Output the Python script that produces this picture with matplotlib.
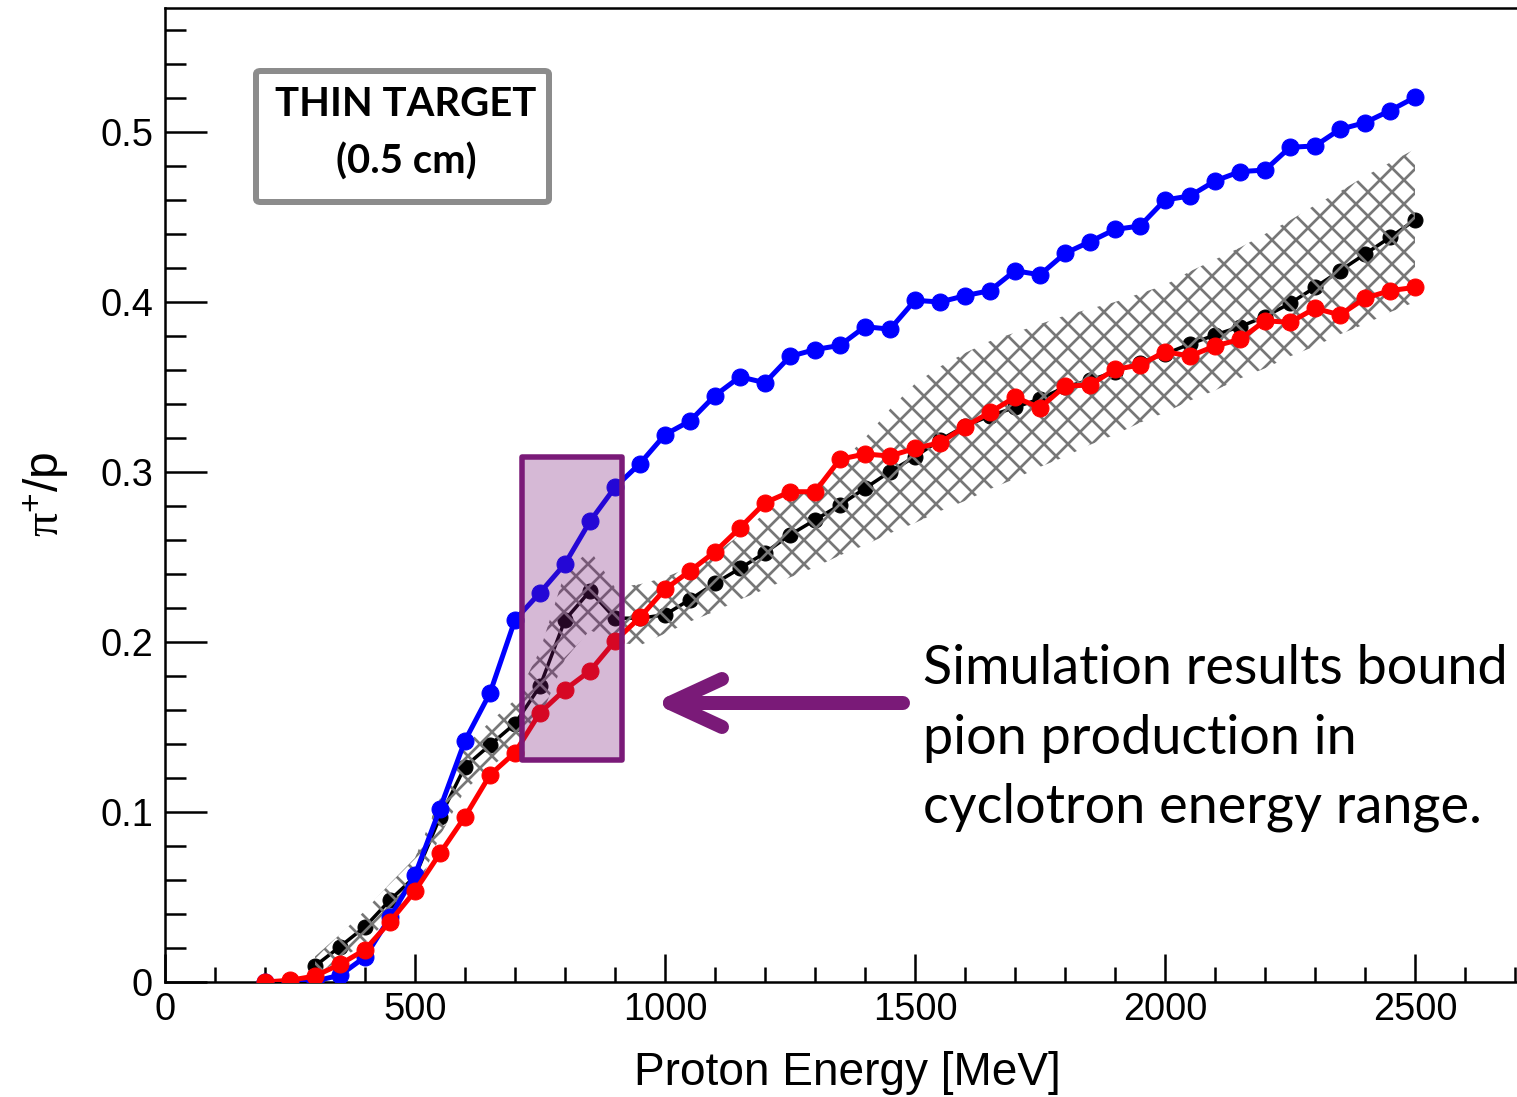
import numpy as np
import matplotlib
matplotlib.use("Agg")
import matplotlib.pyplot as plt
from matplotlib.lines import Line2D
from matplotlib.patches import Rectangle, FancyBboxPatch
from matplotlib.ticker import MultipleLocator

# ---------------- data ----------------
energy_sim = list(range(200, 2501, 50))          # MeV, blue & red curves
sim_high = [0.0, 0.0, 0.0005, 0.004, 0.0147, 0.038, 0.063, 0.102, 0.142, 0.170,
            0.213, 0.229, 0.246, 0.271, 0.291, 0.305, 0.322, 0.330, 0.345, 0.356,
            0.3525, 0.368, 0.372, 0.3745, 0.3855, 0.384, 0.401, 0.400, 0.4037, 0.4067,
            0.4184, 0.416, 0.4286, 0.4355, 0.4427, 0.4447, 0.460, 0.4624, 0.4712, 0.4767,
            0.4776, 0.491, 0.4918, 0.5016, 0.5055, 0.5126, 0.5204]
sim_low = [0.0, 0.001, 0.0035, 0.0104, 0.019, 0.0355, 0.0535, 0.0757, 0.0973, 0.1218,
           0.135, 0.1584, 0.172, 0.183, 0.2006, 0.2145, 0.231, 0.2418, 0.2531, 0.2672,
           0.2819, 0.2884, 0.2884, 0.3075, 0.3106, 0.3094, 0.3139, 0.3172, 0.3267, 0.3351,
           0.344, 0.3378, 0.3505, 0.3512, 0.3604, 0.3629, 0.3708, 0.3682, 0.3741, 0.378,
           0.389, 0.388, 0.3963, 0.3924, 0.4022, 0.4067, 0.4086]

energy_ref = list(range(300, 2501, 50))          # MeV, black curve + band
ref_val = [0.0094, 0.0208, 0.0325, 0.0482, 0.062, 0.097, 0.1267, 0.1394, 0.152, 0.174,
           0.213, 0.230, 0.214, 0.214, 0.216, 0.225, 0.2345, 0.2433, 0.2525, 0.263,
           0.2718, 0.2806, 0.2904, 0.3002, 0.309, 0.3188, 0.327, 0.333, 0.338, 0.343,
           0.350, 0.354, 0.359, 0.3643, 0.3694, 0.3753, 0.3806, 0.3855, 0.3914, 0.3992,
           0.4086, 0.4184, 0.4282, 0.438, 0.4482]
band_hi = [0.015, 0.028, 0.042, 0.058, 0.073, 0.108, 0.139, 0.153, 0.166, 0.195,
           0.241, 0.254, 0.232, 0.234, 0.238, 0.244, 0.252, 0.263, 0.276, 0.284,
           0.292, 0.305, 0.320, 0.337, 0.352, 0.362, 0.370, 0.377, 0.382, 0.387,
           0.392, 0.396, 0.400, 0.405, 0.410, 0.418, 0.425, 0.432, 0.440, 0.448,
           0.457, 0.465, 0.474, 0.482, 0.490]
band_lo = [0.004, 0.013, 0.023, 0.038, 0.051, 0.086, 0.113, 0.126, 0.138, 0.155,
           0.190, 0.207, 0.200, 0.198, 0.205, 0.212, 0.218, 0.225, 0.231, 0.238,
           0.244, 0.251, 0.257, 0.264, 0.270, 0.277, 0.283, 0.290, 0.296, 0.303,
           0.309, 0.316, 0.322, 0.329, 0.335, 0.342, 0.348, 0.355, 0.361, 0.368,
           0.374, 0.381, 0.387, 0.394, 0.400]

x_ticks = [0, 500, 1000, 1500, 2000, 2500]
x_ticklabels = ["0", "500", "1000", "1500", "2000", "2500"]
y_ticks = [0, 0.1, 0.2, 0.3, 0.4, 0.5]
y_ticklabels = ["0", "0.1", "0.2", "0.3", "0.4", "0.5"]
highlight_range = (714, 914, 0.1306, 0.309)   # MeV, MeV, y0, y1

# ---------------- figure ----------------
W, H = 1517, 1097
DPI = 72
plt.rcParams['hatch.linewidth'] = 2.7
plt.rcParams['mathtext.fontset'] = 'custom'
plt.rcParams['mathtext.rm'] = 'Liberation Serif'
plt.rcParams['mathtext.it'] = 'Liberation Serif:italic'
plt.rcParams['mathtext.sf'] = 'Liberation Sans'
fig = plt.figure(figsize=(W / DPI, H / DPI), dpi=DPI)

def fx(px):
    return px / W

def fy(py):
    return 1 - py / H

left_px, bottom_px, top_px = 165, 982, 8
xmax = 2800
ax = fig.add_axes([fx(left_px), fy(bottom_px), (xmax * 0.5) / W, (bottom_px - top_px) / H])
ax.set_xlim(0, xmax)
ax.set_ylim(0, (bottom_px - top_px) / 1700.0)

purple = '#7a1a78'

# black reference curve
ax.plot(energy_ref, ref_val, color='black', lw=3.5, marker='o', ms=15, zorder=2)
# hatched band
ax.fill_between(energy_ref, band_lo, band_hi, facecolor='none', edgecolor='#777777',
                hatch='x', linewidth=0, zorder=3)
# simulations
ax.plot(energy_sim, sim_high, color='#0000ff', lw=5, marker='o', ms=17, zorder=4)
ax.plot(energy_sim, sim_low, color='#ff0000', lw=5, marker='o', ms=17, zorder=5)

# highlight rectangle
x0, x1, y0, y1 = highlight_range
ax.add_patch(Rectangle((x0, y0), x1 - x0, y1 - y0, facecolor=purple, alpha=0.3,
                       edgecolor='none', zorder=6))
ax.add_patch(Rectangle((x0, y0), x1 - x0, y1 - y0, facecolor='none',
                       edgecolor=purple, lw=5.5, zorder=7, joinstyle='round'))

# axes styling
for s in ['left', 'bottom', 'top']:
    ax.spines[s].set_linewidth(2.5)
ax.spines['right'].set_visible(False)
ax.set_xticks(x_ticks)
ax.set_xticklabels(x_ticklabels)
ax.set_yticks(y_ticks)
ax.set_yticklabels(y_ticklabels)
ax.xaxis.set_minor_locator(MultipleLocator(100))
ax.yaxis.set_minor_locator(MultipleLocator(0.02))
ax.tick_params(axis='x', which='major', direction='in', length=28, width=2.5,
               labelsize=38, pad=10)
ax.tick_params(axis='x', which='minor', direction='in', length=15, width=2.5)
ax.tick_params(axis='y', which='major', direction='in', length=42, width=2.5,
               labelsize=38, pad=12)
ax.tick_params(axis='y', which='minor', direction='in', length=21, width=2.5)
for lab in ax.get_xticklabels() + ax.get_yticklabels():
    lab.set_family('Liberation Sans')

fig.text(fx(847), fy(1073), 'Proton Energy [MeV]', ha='center', va='center',
         fontsize=46, family='Liberation Sans')
fig.text(fx(45), fy(494), r'$\mathrm{\pi}^{\mathsf{+}}$/p', ha='center', va='center',
         rotation=90, fontsize=48, family='Liberation Sans')

# THIN TARGET box
box = FancyBboxPatch((fx(256), fy(202)), fx(552 - 256 - 3), (202 - 71) / H,
                     boxstyle='round,pad=0,rounding_size=0.003',
                     transform=fig.transFigure, facecolor='white',
                     edgecolor='#8c8c8c', lw=6, zorder=10)
fig.add_artist(box)
fig.text(fx(406), fy(105), 'THIN TARGET', ha='center', va='center', fontsize=40,
         fontweight='bold', family='Lato', zorder=11)
fig.text(fx(406), fy(162), '(0.5 cm)', ha='center', va='center', fontsize=40,
         fontweight='bold', family='Lato', zorder=11)

# arrow
ay = 703
for xs, ys in [([903, 676], [ay, ay]), ([722, 670], [679, ay]), ([722, 670], [727, ay])]:
    fig.add_artist(Line2D([fx(v) for v in xs], [fy(v) for v in ys],
                          transform=fig.transFigure, color=purple, lw=14,
                          solid_capstyle='round', zorder=12))

# annotation text
for txt, base in [('Simulation results bound', 684),
                  ('pion production in', 754),
                  ('cyclotron energy range.', 823)]:
    fig.text(fx(923), fy(base), txt, ha='left', va='baseline', fontsize=54,
             family='Lato', color='black')

fig.savefig('out.png', dpi=DPI)
